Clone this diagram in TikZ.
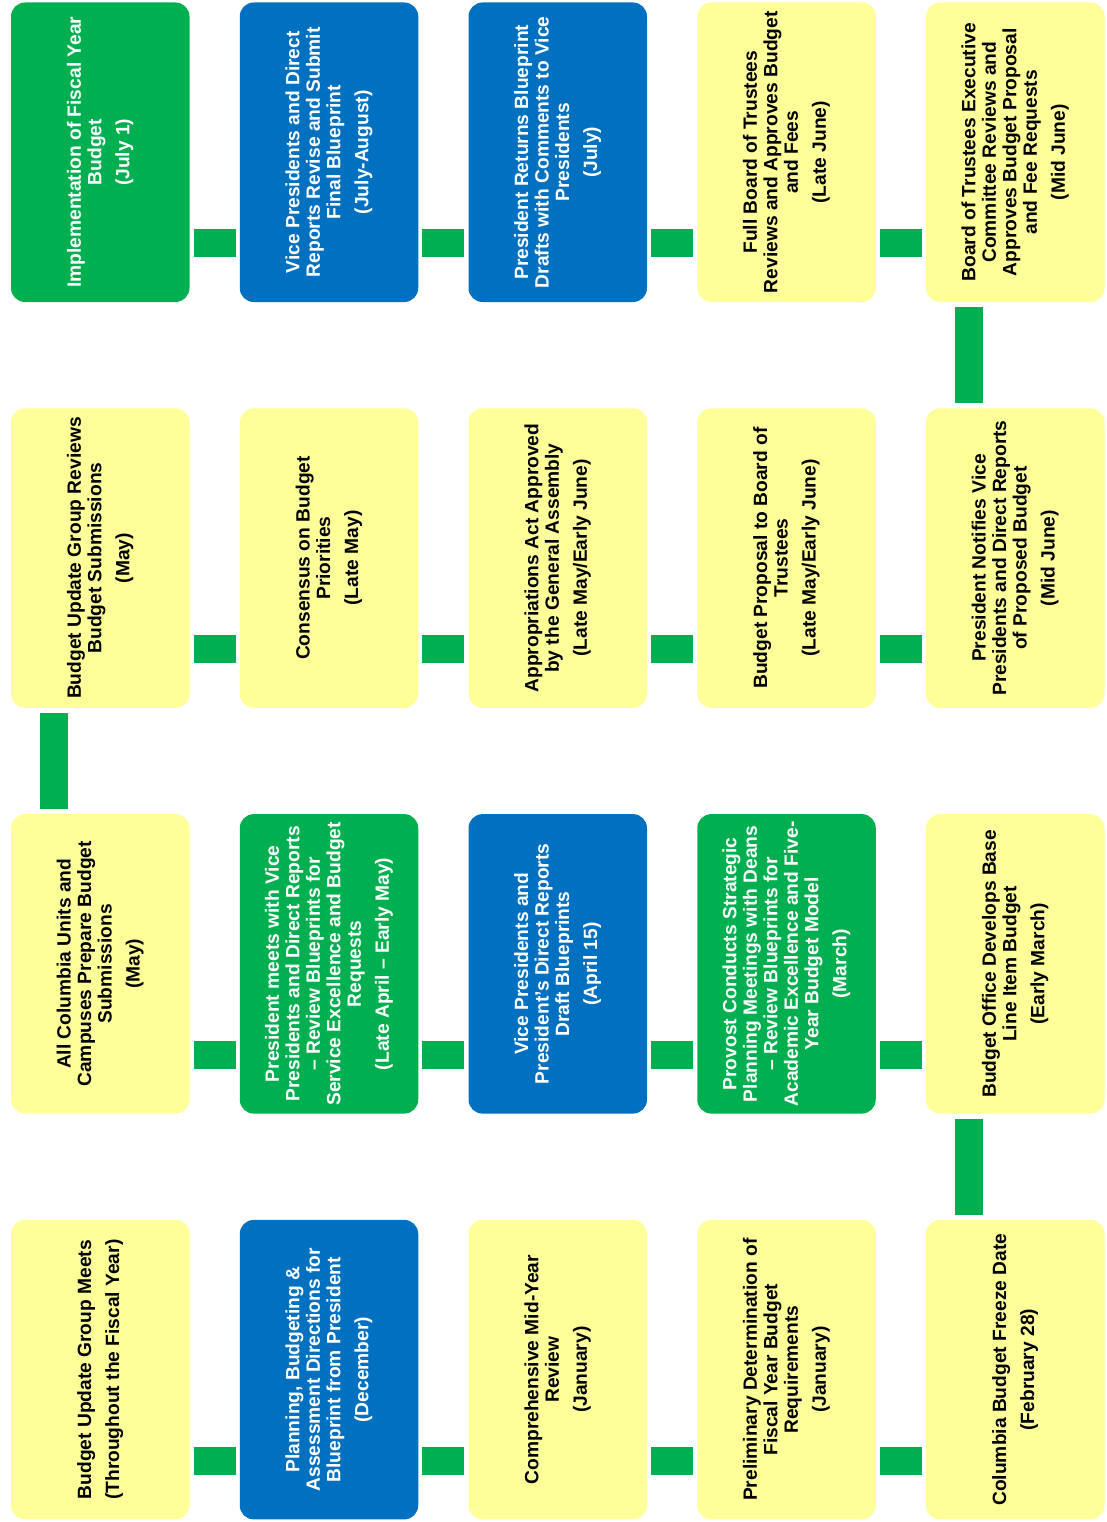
\documentclass[tikz,border=0pt]{standalone}
\usepackage{fontspec}
\setmainfont{Liberation Sans}
\definecolor{boxyellow}{HTML}{FFFF99}
\definecolor{boxgreen}{HTML}{00B050}
\definecolor{boxblue}{HTML}{0070C0}
\definecolor{connc}{HTML}{00B050}
\tikzset{
  box/.style={rectangle, rounded corners=14pt, minimum width=178.5pt, minimum height=299.5pt, inner sep=0pt, draw=none},
  ybox/.style={box, fill=boxyellow},
  gbox/.style={box, fill=boxgreen},
  bbox/.style={box, fill=boxblue},
  txt/.style={rotate=90, align=center, inner sep=0pt, font=\fontsize{19.2}{20.5}\selectfont\bfseries},
  dtxt/.style={txt, text=black},
  ltxt/.style={txt, text=white},
  conn/.style={draw=connc, line width=28pt},
}
\newcommand{\hconn}[2]{\draw[conn] ([shift={(4pt,-91pt)}]#1.east) -- ([shift={(-4pt,-91pt)}]#2.west);}
\newcommand{\vconn}[2]{\draw[conn] ([shift={(-46.5pt,-5pt)}]#1.south) -- ([shift={(-46.5pt,5pt)}]#2.north);}
\begin{document}
\begin{tikzpicture}[x=1pt,y=1pt]
\useasboundingbox (0,0) rectangle (1106,-1522);
% Row 1
\node[gbox] (r1c1) at (100.25,-152.25) {};
\node[ltxt] (t1c1) at (r1c1) {Implementation of Fiscal Year\\Budget\\[7.5pt](July 1)};
\node[bbox] (r1c2) at (329,-152.25) {};
\node[ltxt] (t1c2) at (r1c2) {Vice Presidents and Direct\\Reports Revise and Submit\\Final Blueprint\\[7.5pt](July-August)};
\node[bbox] (r1c3) at (557.75,-152.25) {};
\node[ltxt] (t1c3) at (r1c3) {President Returns Blueprint\\Drafts with Comments to Vice\\Presidents\\[7.5pt](July)};
\node[ybox] (r1c4) at (786.5,-152.25) {};
\node[dtxt] (t1c4) at (r1c4) {Full Board of Trustees\\Reviews and Approves Budget\\and Fees\\[7.5pt](Late June)};
\node[ybox] (r1c5) at (1015.25,-152.25) {};
\node[dtxt] (t1c5) at (r1c5) {Board of Trustees Executive\\Committee Reviews and\\Approves Budget Proposal\\and Fee Requests\\[7.5pt](Mid June)};
% Row 2
\node[ybox] (r2c1) at (100.25,-558.05) {};
\node[dtxt] (t2c1) at (r2c1) {Budget Update Group Reviews\\Budget Submissions\\[7.5pt](May)};
\node[ybox] (r2c2) at (329,-558.05) {};
\node[dtxt] (t2c2) at (r2c2) {Consensus on Budget\\Priorities\\[7.5pt](Late May)};
\node[ybox] (r2c3) at (557.75,-558.05) {};
\node[dtxt] (t2c3) at (r2c3) {Appropriations Act Approved\\by the General Assembly\\[7.5pt](Late May/Early June)};
\node[ybox] (r2c4) at (786.5,-558.05) {};
\node[dtxt] (t2c4) at (r2c4) {Budget Proposal to Board of\\Trustees\\[7.5pt](Late May/Early June)};
\node[ybox] (r2c5) at (1015.25,-558.05) {};
\node[dtxt] (t2c5) at (r2c5) {President Notifies Vice\\Presidents and Direct Reports\\of Proposed Budget\\[7.5pt](Mid June)};
% Row 3
\node[ybox] (r3c1) at (100.25,-963.85) {};
\node[dtxt] (t3c1) at (r3c1) {All Columbia Units and\\Campuses Prepare Budget\\Submissions\\[7.5pt](May)};
\node[gbox] (r3c2) at (329,-963.85) {};
\node[ltxt] (t3c2) at (r3c2) {President meets with Vice\\Presidents and Direct Reports\\– Review Blueprints for\\Service Excellence and Budget\\Requests\\[7.5pt](Late April – Early May)};
\node[bbox] (r3c3) at (557.75,-963.85) {};
\node[ltxt] (t3c3) at (r3c3) {Vice Presidents and\\President’s Direct Reports\\Draft Blueprints\\[7.5pt](April 15)};
\node[gbox] (r3c4) at (786.5,-963.85) {};
\node[ltxt] (t3c4) at (r3c4) {Provost Conducts Strategic\\Planning Meetings with Deans\\– Review Blueprints for\\Academic Excellence and Five-\\Year Budget Model\\[7.5pt](March)};
\node[ybox] (r3c5) at (1015.25,-963.85) {};
\node[dtxt] (t3c5) at (r3c5) {Budget Office Develops Base\\Line Item Budget\\[7.5pt](Early March)};
% Row 4
\node[ybox] (r4c1) at (100.25,-1369.65) {};
\node[dtxt] (t4c1) at (r4c1) {Budget Update Group Meets\\[7.5pt](Throughout the Fiscal Year)};
\node[bbox] (r4c2) at (329,-1369.65) {};
\node[ltxt] (t4c2) at (r4c2) {Planning, Budgeting \&\\Assessment Directions for\\Blueprint from President\\[7.5pt](December)};
\node[ybox] (r4c3) at (557.75,-1369.65) {};
\node[dtxt] (t4c3) at (r4c3) {Comprehensive Mid-Year\\Review\\[7.5pt](January)};
\node[ybox] (r4c4) at (786.5,-1369.65) {};
\node[dtxt] (t4c4) at (r4c4) {Preliminary Determination of\\Fiscal Year Budget\\Requirements\\[7.5pt](January)};
\node[ybox] (r4c5) at (1015.25,-1369.65) {};
\node[dtxt] (t4c5) at (r4c5) {Columbia Budget Freeze Date\\[7.5pt](February 28)};
% Connectors
\hconn{r1c1}{r1c2}\hconn{r1c2}{r1c3}\hconn{r1c3}{r1c4}\hconn{r1c4}{r1c5}
\hconn{r2c1}{r2c2}\hconn{r2c2}{r2c3}\hconn{r2c3}{r2c4}\hconn{r2c4}{r2c5}
\hconn{r3c1}{r3c2}\hconn{r3c2}{r3c3}\hconn{r3c3}{r3c4}\hconn{r3c4}{r3c5}
\hconn{r4c1}{r4c2}\hconn{r4c2}{r4c3}\hconn{r4c3}{r4c4}\hconn{r4c4}{r4c5}
\vconn{r1c5}{r2c5}
\vconn{r2c1}{r3c1}
\vconn{r3c5}{r4c5}
\end{tikzpicture}
\end{document}
